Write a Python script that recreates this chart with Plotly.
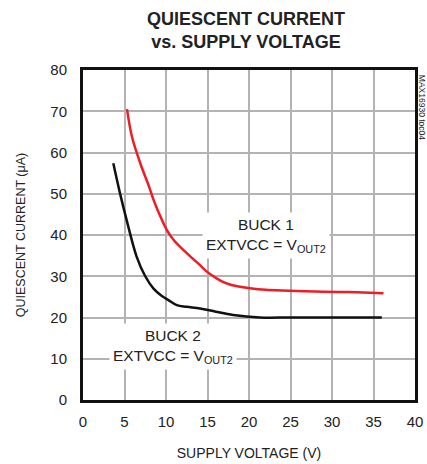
import plotly.graph_objects as go

# BUCK 1 (red)
buck1_v = [5.3, 5.9, 6.9, 8.0, 8.5, 9.0, 10.1, 11.0, 12.5, 14.1, 15.0, 16.1, 17.0, 18.0, 20.1, 22.0, 24.9, 28.0, 31.0, 33.0, 36.2]
buck1_i = [70.5, 63.8, 57.4, 51.5, 48.5, 46.0, 41.2, 38.6, 35.6, 32.7, 31.0, 29.5, 28.5, 27.8, 27.1, 26.7, 26.5, 26.3, 26.2, 26.1, 25.9]

# BUCK 2 (black)
buck2_v = [3.65, 4.46, 5.26, 6.47, 7.5, 8.5, 9.5, 10.3, 11.3, 12.5, 14.1, 16.0, 18.1, 21.3, 25.0, 30.0, 36.0]
buck2_i = [57.4, 50.1, 43.6, 34.7, 30.0, 27.0, 25.2, 24.2, 23.0, 22.6, 22.2, 21.4, 20.6, 20.0, 20.0, 20.0, 20.0]

x_ticks = [0, 5, 10, 15, 20, 25, 30, 35, 40]
y_ticks = [0, 10, 20, 30, 40, 50, 60, 70, 80]

font = "Liberation Sans, Arial, sans-serif"

fig = go.Figure()
fig.add_trace(go.Scatter(x=buck1_v, y=buck1_i, mode="lines", line=dict(color="#ee1c24", width=2.5, shape="spline"),
                         showlegend=False, hoverinfo="skip"))
fig.add_trace(go.Scatter(x=buck2_v, y=buck2_i, mode="lines", line=dict(color="#111111", width=2.5, shape="spline"),
                         showlegend=False, hoverinfo="skip"))

fig.add_annotation(x=22, y=39.9, text="BUCK 1<br>EXTVCC = V<sub>OUT2</sub>", showarrow=False,
                   font=dict(family=font, size=15.5, color="#222"), bgcolor="white", borderpad=3)
fig.add_annotation(x=10.8, y=12.9, text="BUCK 2<br>EXTVCC = V<sub>OUT2</sub>", showarrow=False,
                   font=dict(family=font, size=15.5, color="#222"), bgcolor="white", borderpad=3)
fig.add_annotation(xref="paper", yref="paper", x=1.022, y=0.992, xanchor="center", yanchor="top",
                   text="MAX16930 toc04", textangle=90, showarrow=False,
                   font=dict(family=font, size=8.5, color="#222"))
# chart title
fig.add_annotation(xref="paper", yref="paper", x=0.49, y=1.19, xanchor="center", yanchor="top",
                   text="<b>QUIESCENT CURRENT<br>vs. SUPPLY VOLTAGE</b>", showarrow=False,
                   font=dict(family=font, size=18, color="#222"))

fig.update_layout(
    width=427, height=464,
    margin=dict(l=83, r=12, t=70, b=64),
    paper_bgcolor="white", plot_bgcolor="white",
    font=dict(family=font, size=15, color="#222"),
    hovermode=False,
)
fig.update_xaxes(range=[0, 40], tickvals=x_ticks, showgrid=True, gridcolor="#b3b3b3", gridwidth=1.5,
                 showline=True, mirror=True, linecolor="#111", linewidth=3, zeroline=False, ticks="",
                 automargin=False, ticklabeloverflow="allow", ticklabelstandoff=6,
                 title=dict(text="SUPPLY VOLTAGE (V)", standoff=20, font=dict(size=14)), tickfont=dict(size=15))
fig.update_yaxes(range=[0, 80], tickvals=y_ticks, showgrid=True, gridcolor="#b3b3b3", gridwidth=1.5,
                 showline=True, mirror=True, linecolor="#111", linewidth=3, zeroline=False, ticks="",
                 automargin=False, ticklabelstandoff=10,
                 title=dict(text="QUIESCENT CURRENT (μA)", standoff=22, font=dict(size=12.5)), tickfont=dict(size=15))

# remove the default 8px page margin so the 427x464 figure fills the window exactly
fig.write_html("out.html", config={"displayModeBar": False},
               post_script="document.body.style.margin='0';document.body.style.overflow='hidden';")
